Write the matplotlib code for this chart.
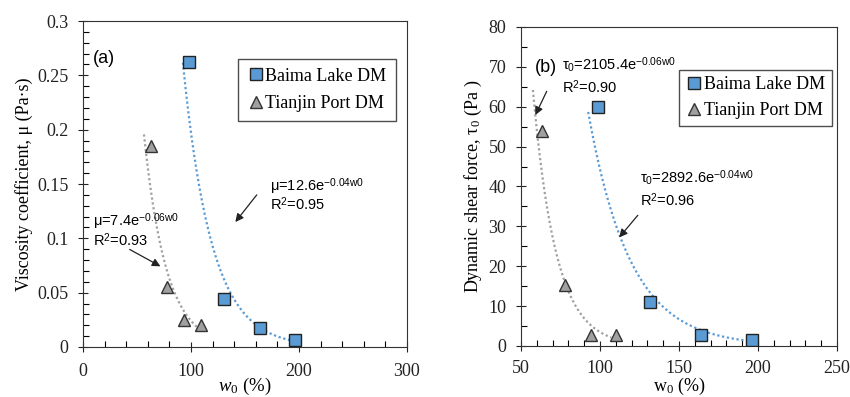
import matplotlib.pyplot as plt
import numpy as np

plt.rcParams['font.family'] = ['Liberation Serif', 'DejaVu Serif']
plt.rcParams['mathtext.fontset'] = 'custom'
plt.rcParams['mathtext.rm'] = 'Liberation Serif'
plt.rcParams['mathtext.it'] = 'Liberation Serif:italic'
plt.rcParams['mathtext.sf'] = 'Liberation Sans'

# data
baima_w = [98.5, 131, 164, 196]
baima_mu = [0.262, 0.044, 0.0175, 0.006]
tianjin_w = [63, 78, 93.5, 109]
tianjin_mu = [0.185, 0.055, 0.0245, 0.0205]

baima_w2 = [98.5, 131.5, 164, 196]
baima_tau = [60, 11, 2.8, 1.6]
tianjin_w2 = [63.5, 78, 94.5, 110]
tianjin_tau = [53.8, 15.2, 2.7, 2.7]

blue = '#5b9bd5'
grey = '#a0a0a0'
sans = ['Liberation Sans', 'DejaVu Sans']


def trend(ax, x, y, x0, x1, color):
    # exponential trendline fitted on the points
    b, a = np.polyfit(x, np.log(y), 1)
    xs = np.linspace(x0, x1, 200)
    ax.plot(xs, np.exp(a + b * xs), linestyle=(0, (1, 1.2)), color=color, lw=1.6, zorder=2)


def style(ax, xpad=8):
    ax.tick_params(which='major', direction='inout', length=7, width=0.8, labelsize=13, colors='#222222')
    ax.tick_params(which='minor', direction='in', length=4, width=0.8)
    ax.tick_params(axis='x', pad=xpad)
    ax.tick_params(axis='y', pad=7)
    for s in ax.spines.values():
        s.set_linewidth(0.8)
        s.set_color('#333333')


fig = plt.figure(figsize=(8.5, 3.97), dpi=100)

# (a)
ax1 = fig.add_axes([0.0976, 0.126, 0.3812, 0.821])
trend(ax1, baima_w, baima_mu, 92.5, 192, blue)
trend(ax1, tianjin_w, tianjin_mu, 56.5, 107, grey)
ax1.plot(baima_w, baima_mu, 's', ms=8, mfc=blue, mec='#222222', mew=1, ls='none', label='Baima Lake DM', zorder=3)
ax1.plot(tianjin_w, tianjin_mu, '^', ms=8.5, mfc=grey, mec='#333333', mew=1, ls='none', label='Tianjin Port DM', zorder=3)
ax1.set_xlim(0, 300)
ax1.set_ylim(0, 0.3)
ax1.set_xticks([0, 100, 200, 300])
ax1.set_xticks(np.arange(0, 301, 20), minor=True)
ax1.set_yticks([0, 0.05, 0.1, 0.15, 0.2, 0.25, 0.3])
ax1.set_yticklabels(['0', '0.05', '0.1', '0.15', '0.2', '0.25', '0.3'])
ax1.set_yticks(np.arange(0, 0.301, 0.01), minor=True)
style(ax1)
ax1.set_xlabel('$\\mathit{w}_0$ (%)', fontsize=13.5, labelpad=-3)
ax1.set_ylabel('Viscosity coefficient, μ (Pa·s)', fontsize=13, labelpad=3)
ax1.text(0.03, 0.87, '(a)', transform=ax1.transAxes, fontsize=13, family=sans)
ax1.text(173, 0.144, 'μ=12.6e$^{\\mathsf{-0.04w0}}$', fontsize=10.5, family=sans)
ax1.text(173, 0.126, 'R$^\\mathsf{2}$=0.95', fontsize=10.5, family=sans)
ax1.annotate('', xy=(139.5, 0.113), xytext=(162.5, 0.142),
             arrowprops=dict(arrowstyle='-|>', color='#222222', lw=0.9, mutation_scale=12))
ax1.text(9, 0.111, 'μ=7.4e$^{\\mathsf{-0.06w0}}$', fontsize=10.5, family=sans)
ax1.text(9, 0.093, 'R$^\\mathsf{2}$=0.93', fontsize=10.5, family=sans)
ax1.annotate('', xy=(74, 0.073), xytext=(41, 0.091),
             arrowprops=dict(arrowstyle='-|>', color='#222222', lw=0.9, mutation_scale=12))
ax1.legend(loc='upper right', bbox_to_anchor=(0.965, 0.885), fontsize=13, frameon=True, fancybox=False,
           edgecolor='#222222', handletextpad=0.05, handlelength=1, borderpad=0.5, labelspacing=0.6,
           borderaxespad=0).get_frame().set_linewidth(1)

# (b)
ax2 = fig.add_axes([0.613, 0.1285, 0.3718, 0.8035])
trend(ax2, baima_w2, baima_tau, 92.5, 194, blue)
trend(ax2, tianjin_w2, tianjin_tau, 57.5, 107, grey)
ax2.plot(baima_w2, baima_tau, 's', ms=8, mfc=blue, mec='#222222', mew=1, ls='none', label='Baima Lake DM', zorder=3)
ax2.plot(tianjin_w2, tianjin_tau, '^', ms=8.5, mfc=grey, mec='#333333', mew=1, ls='none', label='Tianjin Port DM', zorder=3)
ax2.set_xlim(50, 250)
ax2.set_ylim(0, 80)
ax2.set_xticks([50, 100, 150, 200, 250])
ax2.set_xticks(np.arange(50, 251, 10), minor=True)
ax2.set_yticks(np.arange(0, 81, 10))
ax2.set_yticks(np.arange(0, 81, 5), minor=True)
style(ax2, xpad=6.5)
ax2.set_xlabel('w$_0$ (%)', fontsize=13, labelpad=-0.5)
ax2.set_ylabel('Dynamic shear force, τ$_0$ (Pa )', fontsize=13, labelpad=3)
ax2.text(0.045, 0.86, '(b)', transform=ax2.transAxes, fontsize=13, family=sans)
ax2.text(76, 69.3, 'τ$_\\mathsf{0}$=2105.4e$^{\\mathsf{-0.06w0}}$', fontsize=10.5, family=sans)
ax2.text(76, 63.5, 'R$^\\mathsf{2}$=0.90', fontsize=10.5, family=sans)
ax2.annotate('', xy=(58.3, 57.3), xytext=(67, 64.5),
             arrowprops=dict(arrowstyle='-|>', color='#222222', lw=0.9, mutation_scale=12))
ax2.text(125, 40.8, 'τ$_\\mathsf{0}$=2892.6e$^{\\mathsf{-0.04w0}}$', fontsize=10.5, family=sans)
ax2.text(125, 35, 'R$^\\mathsf{2}$=0.96', fontsize=10.5, family=sans)
ax2.annotate('', xy=(111, 26.7), xytext=(125, 33.3),
             arrowprops=dict(arrowstyle='-|>', color='#222222', lw=0.9, mutation_scale=12))
ax2.legend(loc='upper right', bbox_to_anchor=(0.983, 0.865), fontsize=13, frameon=True, fancybox=False,
           edgecolor='#222222', handletextpad=0.05, handlelength=1, borderpad=0.35, labelspacing=0.5,
           borderaxespad=0).get_frame().set_linewidth(1)

fig.savefig('out.png', dpi=100)
